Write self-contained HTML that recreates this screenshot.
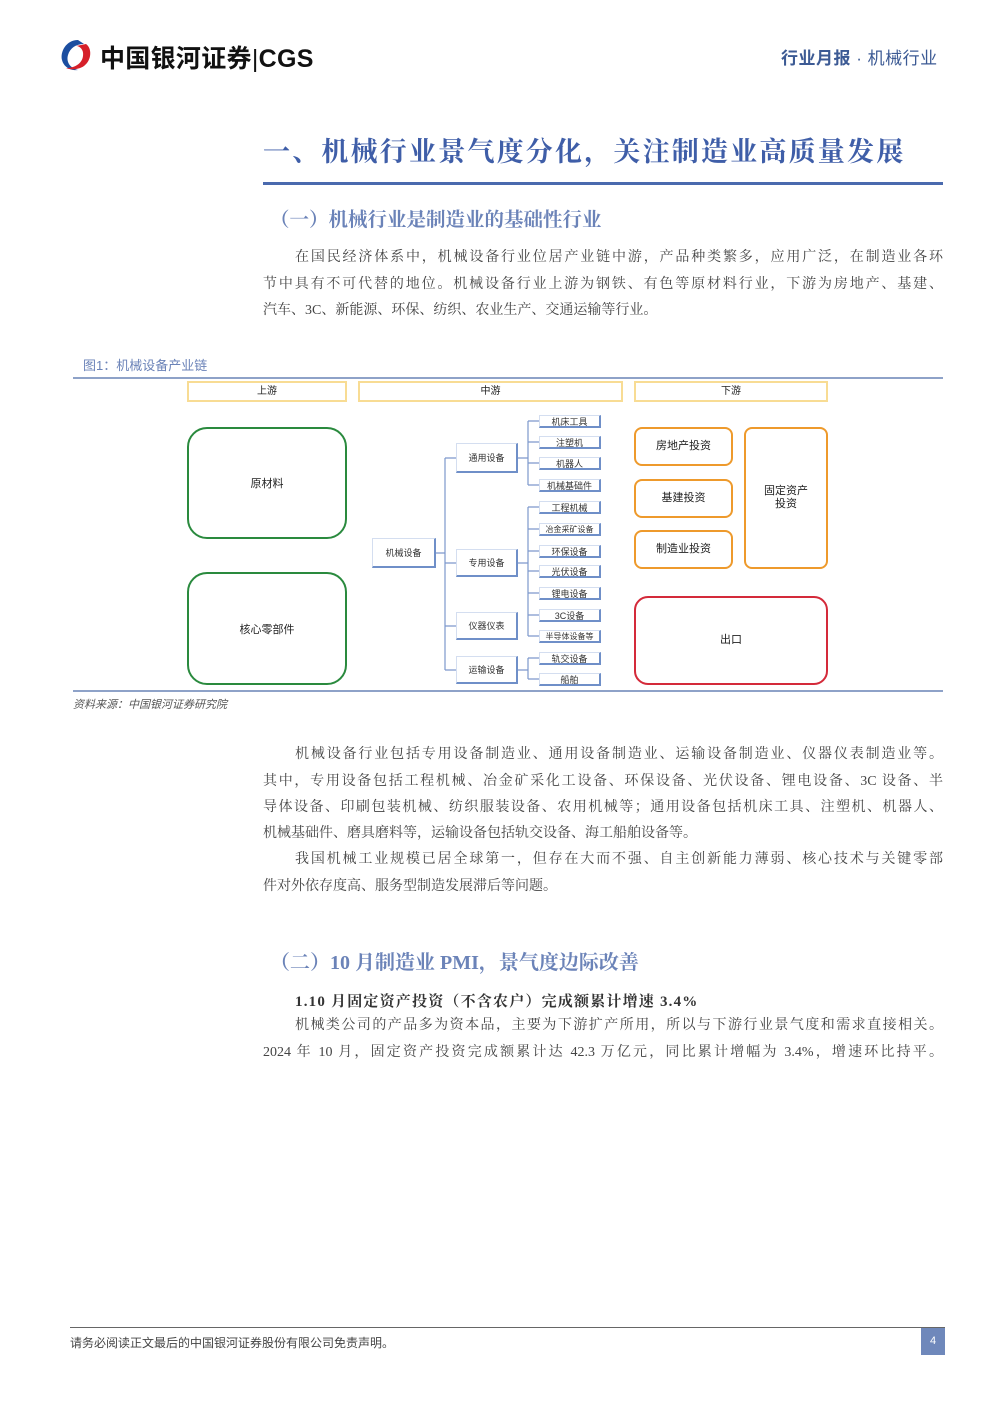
<!DOCTYPE html>
<html><head><meta charset="utf-8"><style>
*{margin:0;padding:0;box-sizing:border-box}
body{width:992px;height:1403px;background:#fff;position:relative;overflow:hidden;font-family:"Liberation Sans","Noto Sans CJK SC",sans-serif;color:#333}
.a{position:absolute}
.l{position:absolute;left:263px;width:680px;font-size:14px;line-height:20px;color:#444;text-align:justify;text-align-last:justify;white-space:nowrap;font-family:"Liberation Serif","Noto Serif CJK SC",serif}
.l.e{text-align-last:left}
.hb{position:absolute;top:381px;height:21px;border:2px solid #f8dc94;font-size:10px;text-align:center;line-height:17px;color:#222}
.g{position:absolute;left:187px;width:160px;border:2px solid #2a8a3e;border-radius:20px;font-size:11px;display:flex;align-items:center;justify-content:center;color:#222}
.o{position:absolute;border:2px solid #ee9a2c;border-radius:8px;font-size:11px;display:flex;align-items:center;justify-content:center;color:#222;text-align:center;line-height:13px}
.b{position:absolute;border:1px solid #d4def0;border-right:2px solid #6f8fc8;border-bottom:2px solid #6f8fc8;font-size:9px;display:flex;align-items:center;justify-content:center;color:#333;background:#fff}
.s{font-size:8px}
</style></head><body>
<svg class="a" style="left:56px;top:38px" width="40" height="34" viewBox="0 0 40 34">
<path d="M22 2 C10 2 4 14 6 22 C8 30 16 33 22 32 C14 30 10 24 12 17 C14 10 20 6 28 6 Z" fill="#1c4ea0"/>
<path d="M30 6 C36 10 36 22 28 28 C22 32 14 32 10 30 C18 30 26 26 27 18 C28 12 24 8 20 8 Z" fill="#d6202a"/>
</svg>
<div class="a" style="left:100px;top:39px;font-size:25px;font-weight:bold;color:#111;letter-spacing:0.3px">中国银河证券<span style="font-weight:normal;color:#111">|</span>CGS</div>
<div class="a" style="left:781px;top:44px;font-size:17px;color:#3c5a94;letter-spacing:0.5px"><b>行业月报</b> · 机械行业</div>
<div class="a" style="left:263px;top:130px;font-size:27px;letter-spacing:2.2px;font-weight:bold;color:#3f5ea8;font-family:'Liberation Serif','Noto Serif CJK SC',serif">一、机械行业景气度分化，关注制造业高质量发展</div>
<div class="a" style="left:263px;top:182px;width:680px;height:3px;background:#4a6aae"></div>
<div class="a" style="left:270px;top:204px;font-size:19.5px;font-weight:bold;color:#6b83b8;font-family:'Liberation Serif','Noto Serif CJK SC',serif">（一）机械行业是制造业的基础性行业</div>
<div class="l" style="top:248px;padding-left:32px">在国民经济体系中，机械设备行业位居产业链中游，产品种类繁多，应用广泛，在制造业各环</div>
<div class="l" style="top:275px">节中具有不可代替的地位。机械设备行业上游为钢铁、有色等原材料行业，下游为房地产、基建、</div>
<div class="l e" style="top:301px">汽车、3C、新能源、环保、纺织、农业生产、交通运输等行业。</div>
<div class="a" style="left:83px;top:355px;font-size:13px;color:#6b83b8">图1：机械设备产业链</div>
<div class="a" style="left:73px;top:377px;width:870px;height:2px;background:#8ea2c8"></div>
<div class="hb" style="left:187px;width:160px">上游</div>
<div class="hb" style="left:358px;width:265px">中游</div>
<div class="hb" style="left:634px;width:194px">下游</div>
<div class="g" style="top:427px;height:112px">原材料</div>
<div class="g" style="top:572px;height:113px">核心零部件</div>
<svg class="a" style="left:0;top:0" width="992" height="700">
<g stroke="#7d98cc" stroke-width="1.2" fill="none">
<path d="M435 553 H445 M445 458 V670 M445 458 H456 M445 563 H456 M445 626 H456 M445 670 H456"/>
<path d="M517 458 H528 M528 421 V485 M528 421 H539 M528 442 H539 M528 463 H539 M528 485 H539"/>
<path d="M517 563 H528 M528 507 V636 M528 507 H539 M528 529 H539 M528 551 H539 M528 571 H539 M528 593 H539 M528 615 H539 M528 636 H539"/>
<path d="M517 670 H528 M528 658 V679 M528 658 H539 M528 679 H539"/>
</g></svg>
<div class="b" style="left:372px;top:538px;width:64px;height:30px">机械设备</div>
<div class="b" style="left:456px;top:443px;width:62px;height:30px">通用设备</div>
<div class="b" style="left:456px;top:549px;width:62px;height:28px">专用设备</div>
<div class="b" style="left:456px;top:612px;width:62px;height:28px">仪器仪表</div>
<div class="b" style="left:456px;top:656px;width:62px;height:28px">运输设备</div>
<div class="b" style="left:539px;top:415px;width:62px;height:13px">机床工具</div>
<div class="b" style="left:539px;top:436px;width:62px;height:13px">注塑机</div>
<div class="b" style="left:539px;top:457px;width:62px;height:13px">机器人</div>
<div class="b" style="left:539px;top:479px;width:62px;height:13px">机械基础件</div>
<div class="b" style="left:539px;top:501px;width:62px;height:13px">工程机械</div>
<div class="b s" style="left:539px;top:523px;width:62px;height:13px">冶金采矿设备</div>
<div class="b" style="left:539px;top:545px;width:62px;height:13px">环保设备</div>
<div class="b" style="left:539px;top:565px;width:62px;height:13px">光伏设备</div>
<div class="b" style="left:539px;top:587px;width:62px;height:13px">锂电设备</div>
<div class="b" style="left:539px;top:609px;width:62px;height:13px">3C设备</div>
<div class="b s" style="left:539px;top:630px;width:62px;height:13px">半导体设备等</div>
<div class="b" style="left:539px;top:652px;width:62px;height:13px">轨交设备</div>
<div class="b" style="left:539px;top:673px;width:62px;height:13px">船舶</div>
<div class="o" style="left:634px;top:427px;width:99px;height:39px">房地产投资</div>
<div class="o" style="left:634px;top:479px;width:99px;height:39px">基建投资</div>
<div class="o" style="left:634px;top:530px;width:99px;height:39px">制造业投资</div>
<div class="o" style="left:744px;top:427px;width:84px;height:142px">固定资产<br>投资</div>
<div class="o" style="left:634px;top:596px;width:194px;height:89px;border-color:#d42a3a;border-radius:14px">出口</div>
<div class="a" style="left:73px;top:690px;width:870px;height:2px;background:#8ea2c8"></div>
<div class="a" style="left:73px;top:696px;font-size:11px;font-style:italic;color:#555">资料来源：中国银河证券研究院</div>
<div class="l" style="top:745px;padding-left:32px">机械设备行业包括专用设备制造业、通用设备制造业、运输设备制造业、仪器仪表制造业等。</div>
<div class="l" style="top:772px">其中，专用设备包括工程机械、冶金矿采化工设备、环保设备、光伏设备、锂电设备、3C 设备、半</div>
<div class="l" style="top:798px">导体设备、印刷包装机械、纺织服装设备、农用机械等；通用设备包括机床工具、注塑机、机器人、</div>
<div class="l e" style="top:824px">机械基础件、磨具磨料等，运输设备包括轨交设备、海工船舶设备等。</div>
<div class="l" style="top:850px;padding-left:32px">我国机械工业规模已居全球第一，但存在大而不强、自主创新能力薄弱、核心技术与关键零部</div>
<div class="l e" style="top:877px">件对外依存度高、服务型制造发展滞后等问题。</div>
<div class="a" style="left:270px;top:946px;font-size:20px;font-weight:bold;color:#6b83b8;font-family:'Liberation Serif','Noto Serif CJK SC',serif">（二）10 月制造业 PMI，景气度边际改善</div>
<div class="a" style="left:295px;top:990px;font-size:15px;letter-spacing:1.2px;font-weight:bold;color:#333;font-family:'Liberation Serif','Noto Serif CJK SC',serif">1.10 月固定资产投资（不含农户）完成额累计增速 3.4%</div>
<div class="l" style="top:1016px;padding-left:32px">机械类公司的产品多为资本品，主要为下游扩产所用，所以与下游行业景气度和需求直接相关。</div>
<div class="l" style="top:1043px">2024 年 10 月，固定资产投资完成额累计达 42.3 万亿元，同比累计增幅为 3.4%，增速环比持平。</div>
<div class="a" style="left:70px;top:1327px;width:875px;height:1px;background:#666"></div>
<div class="a" style="left:70px;top:1334px;font-size:12px;color:#444">请务必阅读正文最后的中国银河证券股份有限公司免责声明。</div>
<div class="a" style="left:921px;top:1328px;width:24px;height:27px;background:#6f88bb;color:#fff;font-size:11px;text-align:center;line-height:27px">4</div>
</body></html>
